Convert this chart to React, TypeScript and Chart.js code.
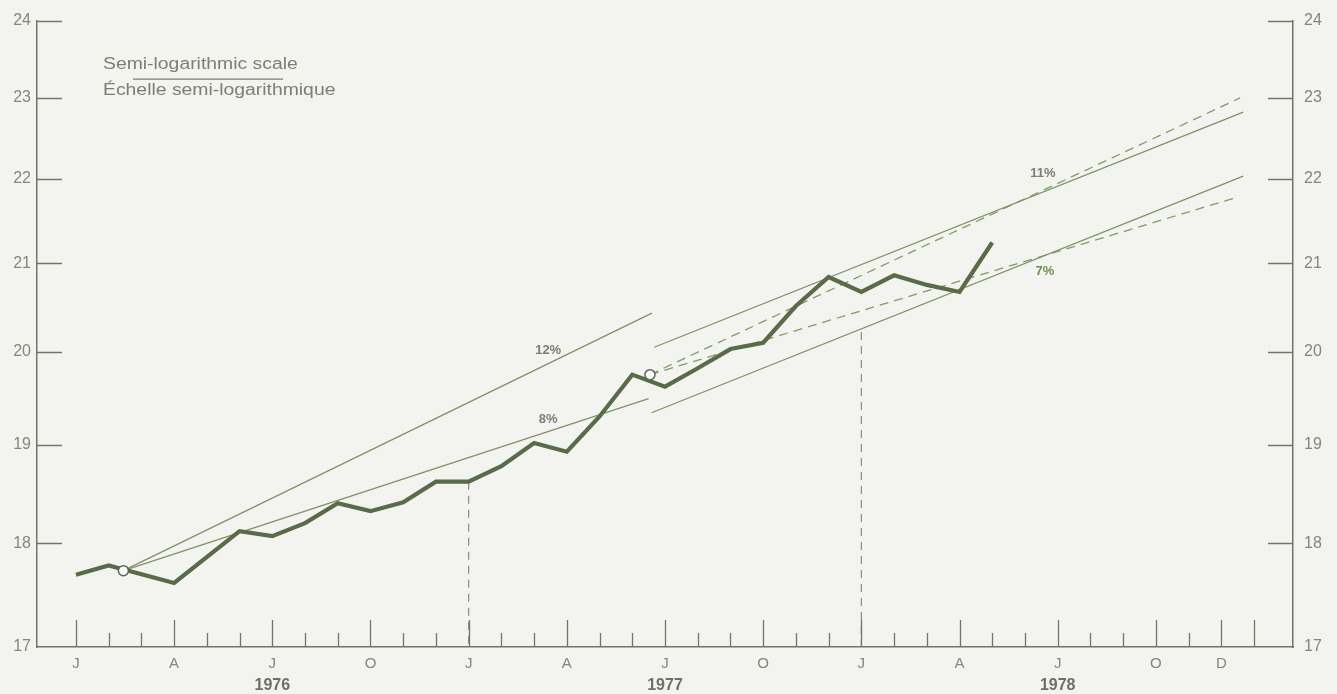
import { useEffect, useRef } from "react";
import { Chart, registerables } from "chart.js";

Chart.register(...registerables);

// ---- Data (months counted from January 1976 = 0) ----
const seriesMonths = [0, 1, 3, 5, 6, 7, 8, 9, 10, 11, 12, 13, 14, 15, 16, 17, 18, 19, 20, 21, 22, 23, 24, 25, 26, 27, 28];
const seriesValues = [17.69, 17.78, 17.61, 18.12, 18.07, 18.2, 18.4, 18.32, 18.41, 18.62, 18.62, 18.78, 19.02, 18.93, 19.3, 19.75, 19.62, 19.82, 20.03, 20.1, 20.51, 20.84, 20.67, 20.86, 20.75, 20.67, 21.24];

const trend12Months = [1.45, 17.6];
const trend12Values = [17.73, 20.43];
const trend8Months = [1.45, 17.5];
const trend8Values = [17.73, 19.49];
const upperSolidMonths = [17.67, 35.67];
const upperSolidValues = [20.05, 22.82];
const upperDashedMonths = [17.54, 35.57];
const upperDashedValues = [19.75, 23.0];
const lowerSolidMonths = [17.59, 35.67];
const lowerSolidValues = [19.34, 22.03];
const lowerDashedMonths = [17.54, 35.52];
const lowerDashedValues = [19.75, 21.78];

const circleMonths = [1.45, 17.54];
const circleValues = [17.73, 19.75];

const dropMonths = [12, 24];
const dropTopValues = [18.62, 20.22];

const rateLabels = ["12%", "8%", "11%", "7%"];
const rateMonths = [14.43, 14.43, 29.55, 29.61];
const rateValues = [20.01, 19.27, 22.06, 20.91];
const rateColors = ["#7c7f72", "#7c7f72", "#7c7f72", "#6f9150"];

const yTicks = [17, 18, 19, 20, 21, 22, 23, 24];
const xTickMonths = [0, 3, 6, 9, 12, 15, 18, 21, 24, 27, 30, 33, 35];
const xTickLabels = ["J", "A", "J", "O", "J", "A", "J", "O", "J", "A", "J", "O", "D"];
const majorTickMonths = [0, 3, 6, 9, 12, 15, 18, 21, 24, 27, 30, 33, 35, 36];
const allTickMonths = Array.from({ length: 37 }, (_, i) => i);
const yearMonths = [6, 18, 30];
const yearLabels = ["1976", "1977", "1978"];

const titleLines = ["Semi-logarithmic scale", "Échelle semi-logarithmique"];

const AXIS = "#6f7868";
const LABEL = "#85867c";
const FONT = "'Liberation Sans', Arial, sans-serif";

const pts = (xs: number[], ys: number[]) => xs.map((x, i) => ({ x, y: ys[i] }));

export default function App() {
  const ref = useRef<HTMLCanvasElement>(null);

  useEffect(() => {
    document.body.style.margin = "0";
    const canvas = ref.current!;

    const decor = {
      id: "decor",
      beforeDraw(chart: any) {
        const c = chart.ctx;
        c.save();
        c.fillStyle = "#f3f3ef";
        c.fillRect(0, 0, chart.width, chart.height);
        c.restore();
      },
      afterDraw(chart: any) {
        const c = chart.ctx;
        const xs = chart.scales.x;
        const ys = chart.scales.y;
        const area = chart.chartArea;
        c.save();
        c.strokeStyle = AXIS;
        c.lineWidth = 1.3;
        // x ticks (inward)
        allTickMonths.forEach((m) => {
          const px = Math.round(xs.getPixelForValue(m)) + 0.5;
          const len = majorTickMonths.includes(m) ? 27 : 14;
          c.beginPath();
          c.moveTo(px, area.bottom);
          c.lineTo(px, area.bottom - len);
          c.stroke();
        });
        // y ticks (inward both sides)
        yTicks.forEach((v) => {
          if (v === 17) return;
          const py = Math.round(ys.getPixelForValue(v)) + 0.5;
          c.beginPath();
          c.moveTo(area.left, py);
          c.lineTo(area.left + 25, py);
          c.moveTo(area.right, py);
          c.lineTo(area.right - 25, py);
          c.stroke();
        });
        // year labels
        c.fillStyle = "#6e7066";
        c.font = `bold 16px ${FONT}`;
        c.textAlign = "center";
        c.textBaseline = "middle";
        yearMonths.forEach((m, i) => {
          c.fillText(yearLabels[i], xs.getPixelForValue(m), area.bottom + 39);
        });
        // rate labels
        c.font = `bold 13px ${FONT}`;
        rateLabels.forEach((t, i) => {
          c.fillStyle = rateColors[i];
          c.fillText(t, xs.getPixelForValue(rateMonths[i]), ys.getPixelForValue(rateValues[i]));
        });
        // title (slightly wide lettering as in the print)
        c.fillStyle = "#7b8070";
        c.font = `16px ${FONT}`;
        c.textAlign = "left";
        const tx = area.left + 66;
        [area.top + 44, area.top + 70].forEach((ty, i) => {
          c.save();
          c.translate(tx, ty);
          c.scale(1.21, 1);
          c.fillText(titleLines[i], 0, 0);
          c.restore();
        });
        c.strokeStyle = "#7b8070";
        c.lineWidth = 1.2;
        c.beginPath();
        c.moveTo(area.left + 96, area.top + 58.5);
        c.lineTo(area.left + 246, area.top + 58.5);
        c.stroke();
        c.restore();
      },
    };

    const thin = (data: any, color: string, dash: number[] = []) => ({
      data,
      borderColor: color,
      borderWidth: 1.3,
      borderDash: dash,
      pointRadius: 0,
      tension: 0,
      fill: false,
      order: 3,
    });

    const yTickOpts = (pad: number) => ({
      padding: pad,
      color: LABEL,
      font: { family: FONT, size: 16 },
      callback: (v: any) => String(v),
    });

    const chart = new Chart(canvas, {
      type: "line",
      data: {
        datasets: [
          {
            data: pts(circleMonths, circleValues),
            showLine: false,
            pointRadius: 5,
            pointBackgroundColor: "#fafaf6",
            pointBorderColor: "#5e6358",
            pointBorderWidth: 1.5,
            order: 0,
          } as any,
          {
            data: pts(seriesMonths, seriesValues),
            borderColor: "#596c48",
            borderWidth: 4.2,
            pointRadius: 0,
            tension: 0,
            borderJoinStyle: "miter",
            order: 1,
          },
          thin(pts(trend12Months, trend12Values), "#7f9462"),
          thin(pts(trend8Months, trend8Values), "#7f9462"),
          thin(pts(upperSolidMonths, upperSolidValues), "#7f9462"),
          thin(pts(lowerSolidMonths, lowerSolidValues), "#7f9462"),
          thin(pts(upperDashedMonths, upperDashedValues), "#7f9e62", [9, 6]),
          thin(pts(lowerDashedMonths, lowerDashedValues), "#7f9e62", [9, 6]),
          ...dropMonths.map((m, i) => ({
            ...thin([{ x: m, y: dropTopValues[i] }, { x: m, y: 17 }], "#8a8a85", [8, 6]),
            borderWidth: 1.2,
          })),
        ],
      },
      options: {
        animation: false,
        responsive: false,
        devicePixelRatio: 1,
        layout: { padding: { top: 16, left: 0, right: 0, bottom: 0 } },
        plugins: { legend: { display: false }, tooltip: { enabled: false } },
        scales: {
          x: {
            type: "linear",
            min: -1.19,
            max: 37.19,
            grid: { display: false, drawTicks: false },
            border: { display: true, color: AXIS, width: 1.5 },
            afterBuildTicks: (s: any) => {
              s.ticks = xTickMonths.map((v) => ({ value: v }));
            },
            afterFit: (s: any) => {
              s.height = 47;
            },
            ticks: {
              autoSkip: false,
              maxRotation: 0,
              padding: 8,
              color: LABEL,
              font: { family: FONT, size: 15 },
              callback: (_v: any, i: number) => xTickLabels[i],
            },
          },
          y: {
            type: "logarithmic",
            position: "left",
            min: 17,
            max: 24,
            grid: { display: false, drawTicks: false },
            border: { display: true, color: AXIS, width: 1.5 },
            afterBuildTicks: (s: any) => {
              s.ticks = yTicks.map((v) => ({ value: v }));
            },
            afterFit: (s: any) => {
              s.width = 37;
            },
            ticks: yTickOpts(6),
          },
          y2: {
            type: "logarithmic",
            position: "right",
            min: 17,
            max: 24,
            grid: { display: false, drawTicks: false },
            border: { display: true, color: AXIS, width: 1.5 },
            afterBuildTicks: (s: any) => {
              s.ticks = yTicks.map((v) => ({ value: v }));
            },
            afterFit: (s: any) => {
              s.width = 44;
            },
            ticks: yTickOpts(11),
          },
        },
      } as any,
      plugins: [decor],
    });

    return () => chart.destroy();
  }, []);

  return (
    <div style={{ width: 1337, height: 694, background: "#f3f3ef" }}>
      <canvas ref={ref} width={1337} height={694} style={{ display: "block" }} />
    </div>
  );
}
